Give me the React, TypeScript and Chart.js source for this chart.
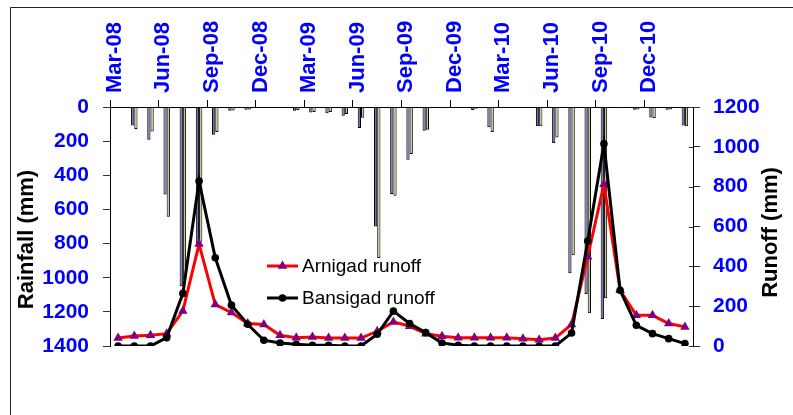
import React, { useEffect, useRef } from 'react';
import { Chart, registerables } from 'chart.js';

Chart.register(...registerables);

const months = [
  'Mar-08', 'Apr-08', 'May-08', 'Jun-08', 'Jul-08', 'Aug-08', 'Sep-08', 'Oct-08', 'Nov-08', 'Dec-08', 'Jan-09', 'Feb-09',
  'Mar-09', 'Apr-09', 'May-09', 'Jun-09', 'Jul-09', 'Aug-09', 'Sep-09', 'Oct-09', 'Nov-09', 'Dec-09', 'Jan-10', 'Feb-10',
  'Mar-10', 'Apr-10', 'May-10', 'Jun-10', 'Jul-10', 'Aug-10', 'Sep-10', 'Oct-10', 'Nov-10', 'Dec-10', 'Jan-11', 'Feb-11',
];

// Rainfall (mm), left axis (reversed)
const rainfallArnigad = [
  5, 108, 192, 512, 1050, 800, 162, 22, 16, 3, 5, 22,
  32, 37, 51, 123, 700, 510, 309, 139, 8, 0, 18, 119,
  2, 2, 113, 211, 974, 1095, 1242, 8, 16, 61, 16, 108,
];
const rainfallBansigad = [
  5, 129, 143, 643, 1010, 790, 147, 20, 14, 2, 6, 18,
  30, 30, 41, 63, 884, 520, 276, 133, 6, 0, 10, 147,
  2, 2, 113, 178, 868, 1208, 1120, 6, 14, 65, 14, 113,
];

// Runoff (mm), right axis
const runoffArnigad = [
  40, 50, 54, 62, 176, 512, 208, 168, 113, 108, 54, 42,
  45, 40, 40, 40, 74, 121, 99, 62, 49, 42, 42, 42,
  42, 37, 32, 40, 108, 448, 812, 280, 154, 154, 113, 96,
];
const runoffBansigad = [
  0, 0, 0, 42, 264, 828, 443, 205, 109, 29, 15, 9,
  4, 4, 0, 0, 59, 175, 113, 67, 15, 4, 0, 0,
  0, 0, 0, 0, 65, 527, 1015, 280, 104, 62, 37, 12,
];

const rainfallTicks = { min: 0, max: 1400, step: 200 };
const runoffTicks = { min: 0, max: 1200, step: 200 };

const FONT = 'Arial, "Liberation Sans", sans-serif';

const framePlugin = {
  id: 'frame',
  beforeDraw(chart: any) {
    const ctx = chart.ctx;
    ctx.save();
    ctx.fillStyle = '#ffffff';
    ctx.fillRect(0, 0, chart.width, chart.height);
    ctx.strokeStyle = '#222222';
    ctx.lineWidth = 1;
    ctx.beginPath();
    ctx.moveTo(10.5, chart.height + 5);
    ctx.lineTo(10.5, 7.5);
    ctx.lineTo(chart.width + 5, 7.5);
    ctx.stroke();
    ctx.restore();
  },
};

const axisTitlePlugin = {
  id: 'axisTitles',
  afterDraw(chart: any) {
    const ctx = chart.ctx;
    const ca = chart.chartArea;
    const midY = (ca.top + ca.bottom) / 2;
    ctx.save();
    ctx.fillStyle = '#000000';
    ctx.font = `bold 22px ${FONT}`;
    ctx.textAlign = 'center';
    ctx.textBaseline = 'middle';
    const draw = (text: string, x: number, y: number) => {
      ctx.save();
      ctx.translate(x, y);
      ctx.rotate(-Math.PI / 2);
      ctx.fillText(text, 0, 0);
      ctx.restore();
    };
    draw('Rainfall (mm)', ca.left - 83, midY + 13);
    draw('Runoff (mm)', ca.right + 78, midY + 6);
    const y1 = chart.scales.y1;
    ctx.strokeStyle = '#333333';
    ctx.lineWidth = 1;
    y1.ticks.forEach((t: any) => {
      const py = Math.round(y1.getPixelForValue(t.value)) + 0.5;
      ctx.beginPath();
      ctx.moveTo(ca.right - 4, py);
      ctx.lineTo(ca.right, py);
      ctx.stroke();
    });
    ctx.restore();
  },
};

const legendPlugin = {
  id: 'insideLegend',
  afterDatasetsDraw(chart: any) {
    const ctx = chart.ctx;
    const ca = chart.chartArea;
    const items = chart.data.datasets.filter((d: any) => d.type === 'line');
    const x0 = ca.left + 157;
    let y = ca.top + 159;
    ctx.save();
    items.forEach((d: any) => {
      ctx.strokeStyle = d.borderColor;
      ctx.lineWidth = d.borderWidth;
      ctx.beginPath();
      ctx.moveTo(x0, y);
      ctx.lineTo(x0 + 31, y);
      ctx.stroke();
      const cx = x0 + 15.5;
      ctx.fillStyle = d.pointBackgroundColor;
      ctx.beginPath();
      if (d.pointStyle === 'triangle') {
        const r = d.pointRadius;
        ctx.moveTo(cx, y - r);
        ctx.lineTo(cx + r * Math.sin((2 * Math.PI) / 3), y + r / 2);
        ctx.lineTo(cx - r * Math.sin((2 * Math.PI) / 3), y + r / 2);
        ctx.closePath();
      } else {
        ctx.arc(cx, y, d.pointRadius, 0, Math.PI * 2);
      }
      ctx.fill();
      ctx.fillStyle = '#000000';
      ctx.font = `19px ${FONT}`;
      ctx.textAlign = 'left';
      ctx.textBaseline = 'middle';
      ctx.fillText(d.label, x0 + 35, y + 1);
      y += 32;
    });
    ctx.restore();
  },
};

export default function App() {
  const canvasRef = useRef<HTMLCanvasElement | null>(null);

  useEffect(() => {
    document.body.style.margin = '0';
    const canvas = canvasRef.current;
    if (!canvas) return;
    const chart = new Chart(canvas, {
      type: 'bar',
      data: {
        labels: months,
        datasets: [
          {
            type: 'line',
            label: 'Arnigad runoff',
            data: runoffArnigad,
            yAxisID: 'y1',
            borderColor: '#ff0000',
            backgroundColor: '#800080',
            borderWidth: 3,
            pointStyle: 'triangle',
            pointRadius: 5.5,
            pointBackgroundColor: '#800080',
            pointBorderColor: '#800080',
            pointBorderWidth: 0,
            tension: 0,
            order: 2,
          } as any,
          {
            type: 'line',
            label: 'Bansigad runoff',
            data: runoffBansigad,
            yAxisID: 'y1',
            borderColor: '#000000',
            backgroundColor: '#000000',
            borderWidth: 3,
            pointStyle: 'circle',
            pointRadius: 3.8,
            pointBackgroundColor: '#000000',
            pointBorderColor: '#000000',
            pointBorderWidth: 0,
            tension: 0,
            order: 1,
          } as any,
          {
            type: 'bar',
            label: 'Arnigad rainfall',
            data: rainfallArnigad,
            yAxisID: 'y',
            backgroundColor: '#7070b8',
            borderColor: '#000000',
            borderWidth: 1,
            barPercentage: 1,
            categoryPercentage: 0.4,
            order: 10,
          } as any,
          {
            type: 'bar',
            label: 'Bansigad rainfall',
            data: rainfallBansigad,
            yAxisID: 'y',
            backgroundColor: '#c4c49a',
            borderColor: '#000000',
            borderWidth: 1,
            barPercentage: 1,
            categoryPercentage: 0.4,
            order: 11,
          } as any,
        ],
      },
      options: {
        responsive: false,
        animation: false,
        layout: { padding: { left: 0, right: 0, top: 0, bottom: 69 } },
        plugins: {
          legend: { display: false },
          tooltip: { enabled: false },
        },
        scales: {
          x: {
            type: 'category',
            position: 'top',
            offset: true,
            grid: {
              offset: true,
              drawOnChartArea: false,
              drawTicks: true,
              tickLength: 7,
              color: (ctx: any) => (ctx.index % 3 === 0 ? '#000000' : 'rgba(0,0,0,0)'),
            },
            border: { display: true, color: '#000000', width: 1 },
            ticks: {
              autoSkip: false,
              minRotation: 90,
              maxRotation: 90,
              padding: 7,
              labelOffset: 23,
              color: '#0000ff',
              font: { family: FONT, size: 22, weight: 'bold' },
              callback: function (this: any, value: any, index: number) {
                return index % 3 === 0 ? this.getLabelForValue(value) : '';
              },
            },
            afterFit: (scale: any) => {
              scale.height = 107;
            },
          },
          y: {
            type: 'linear',
            position: 'left',
            reverse: true,
            min: rainfallTicks.min,
            max: rainfallTicks.max,
            grid: { drawOnChartArea: false, tickLength: 7, color: '#333333' },
            border: { display: true, color: '#000000', width: 1 },
            ticks: {
              stepSize: rainfallTicks.step,
              padding: 14,
              color: '#0000ff',
              font: { family: FONT, size: 21, weight: 'bold' },
              callback: (v: any) => String(v),
            },
            afterFit: (scale: any) => {
              scale.width = 110;
            },
          },
          y1: {
            type: 'linear',
            position: 'right',
            min: runoffTicks.min,
            max: runoffTicks.max,
            grid: { drawOnChartArea: false, tickLength: 7, color: '#333333' },
            border: { display: true, color: '#000000', width: 1 },
            ticks: {
              stepSize: runoffTicks.step,
              padding: 13,
              color: '#0000ff',
              font: { family: FONT, size: 21, weight: 'bold' },
              callback: (v: any) => String(v),
            },
            afterFit: (scale: any) => {
              scale.width = 100;
            },
          },
        },
      } as any,
      plugins: [framePlugin, axisTitlePlugin, legendPlugin],
    });
    return () => chart.destroy();
  }, []);

  return (
    <div style={{ width: 793, height: 415 }}>
      <canvas ref={canvasRef} width={793} height={415} />
    </div>
  );
}
